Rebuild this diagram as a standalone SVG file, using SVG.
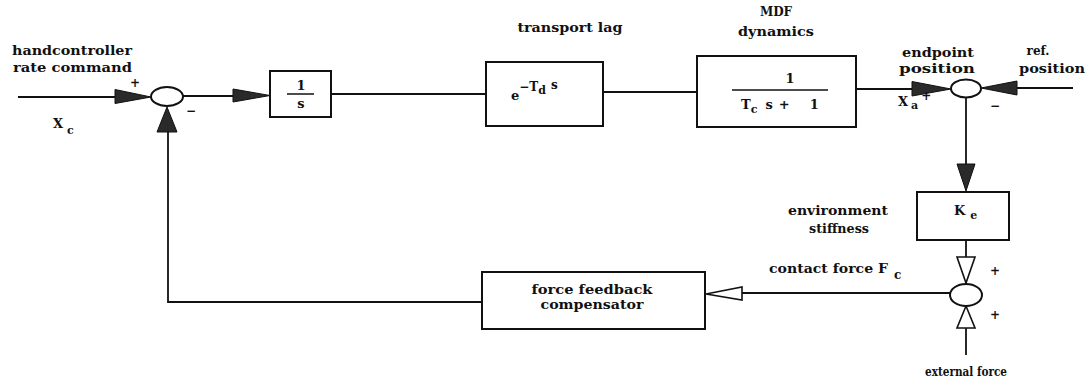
<svg xmlns="http://www.w3.org/2000/svg" width="1091" height="382" viewBox="0 0 1091 382">
<style>
text{font-family:"DejaVu Serif","Liberation Serif",serif;font-weight:bold;fill:#111}
.lbl{font-size:12px}
.mid{text-anchor:middle}
.box{fill:#fff;stroke:#111;stroke-width:2}
.sum{fill:#fff;stroke:#111;stroke-width:2}
.ln{fill:none;stroke:#111;stroke-width:1.8}
.fa{fill:#2a2a2a;stroke:#111;stroke-width:1}
.oa{fill:#fff;stroke:#111;stroke-width:1.6}
.sym{font-size:13px}
.sg{font-size:12px}
</style>
<rect width="1091" height="382" fill="#fff"/>
<g id="connectors">
  <path class="ln" d="M18 97 H115"/>
  <polygon class="fa" points="115,89.5 151,97 115,103.5"/>
  <path class="ln" d="M183 96 H233"/>
  <polygon class="fa" points="233,89 270,95.5 233,102"/>
  <path class="ln" d="M331 94 H486"/>
  <path class="ln" d="M603 92 H697"/>
  <path class="ln" d="M856 89 H912"/>
  <polygon class="fa" points="912,81.5 951,89 912,96"/>
  <path class="ln" d="M1073 88 H1017"/>
  <polygon class="fa" points="1017,81 981,88 1017,95"/>
  <path class="ln" d="M966 97 V164"/>
  <polygon class="fa" points="957,164 975,164 966,191"/>
  <path class="ln" d="M966 240 V257"/>
  <polygon class="oa" points="957,257 975,257 966,283"/>
  <path class="ln" d="M966 355 V328"/>
  <polygon class="oa" points="957,328 975,328 966,306"/>
  <path class="ln" d="M950 293 H742"/>
  <polygon class="oa" points="742,287 742,300 706,294"/>
  <path class="ln" d="M482 302 H168 V132"/>
  <polygon class="fa" points="157,132 177,132 167,107"/>
</g>
<g id="sum1"><ellipse class="sum" cx="167" cy="96.5" rx="16" ry="9.5"/></g>
<g id="integrator">
  <rect class="box" x="270" y="71" width="61" height="46"/>
  <text class="sym mid" x="301" y="90">1</text>
  <line x1="287" y1="94" x2="314" y2="94" stroke="#111" stroke-width="1.5"/>
  <text class="sym mid" x="301" y="108">s</text>
</g>
<g id="transport-lag">
  <rect class="box" x="486" y="62" width="117" height="64"/>
  <text class="sym" x="511" y="100">e<tspan font-size="12" dy="-9">−T</tspan><tspan font-size="11" dy="3">d</tspan><tspan font-size="12" dx="5" dy="-5">s</tspan></text>
</g>
<g id="mdf-dynamics">
  <rect class="box" x="697" y="56" width="159" height="71"/>
  <text class="sym mid" x="790" y="83">1</text>
  <line x1="732" y1="90" x2="828" y2="90" stroke="#111" stroke-width="1.6"/>
  <text class="sym" x="741" y="109">T<tspan font-size="11" dy="4">c</tspan><tspan dx="8" dy="-4">s</tspan><tspan dx="6">+</tspan><tspan dx="20">1</tspan></text>
</g>
<g id="sum2"><ellipse class="sum" cx="966" cy="88.5" rx="15" ry="9"/></g>
<g id="stiffness">
  <rect class="box" x="917" y="192" width="92" height="48"/>
  <text class="sym" x="954" y="215">K<tspan font-size="11" dx="5" dy="4">e</tspan></text>
</g>
<g id="sum3"><ellipse class="sum" cx="966" cy="295" rx="16" ry="11"/></g>
<g id="compensator">
  <rect class="box" x="482" y="272" width="223" height="57"/>
  <text class="lbl mid" x="592" y="294" textLength="121" lengthAdjust="spacingAndGlyphs">force feedback</text>
  <text class="lbl mid" x="592" y="309" textLength="103" lengthAdjust="spacingAndGlyphs">compensator</text>
</g>
<g id="labels">
  <text class="lbl" x="12" y="55" textLength="120" lengthAdjust="spacingAndGlyphs">handcontroller</text>
  <text class="lbl" x="13" y="72" textLength="119" lengthAdjust="spacingAndGlyphs">rate command</text>
  <text class="sg mid" x="135" y="87">+</text>
  <text class="sg mid" x="191" y="115">−</text>
  <text class="sym" x="53" y="128">X<tspan font-size="11" dx="4" dy="6">c</tspan></text>
  <text class="lbl mid" x="570" y="32" textLength="105" lengthAdjust="spacingAndGlyphs">transport lag</text>
  <text class="lbl mid" x="776" y="16">MDF</text>
  <text class="lbl mid" x="776" y="36" textLength="76" lengthAdjust="spacingAndGlyphs">dynamics</text>
  <text class="lbl mid" x="938" y="57" textLength="72" lengthAdjust="spacingAndGlyphs">endpoint</text>
  <text class="lbl mid" x="937" y="73" textLength="76" lengthAdjust="spacingAndGlyphs">position</text>
  <text class="lbl mid" x="1038" y="55">ref.</text>
  <text class="lbl mid" x="1052" y="73" textLength="66" lengthAdjust="spacingAndGlyphs">position</text>
  <text class="sym" x="898" y="106">X<tspan font-size="11" dx="3" dy="3">a</tspan><tspan font-size="12" dx="3" dy="-9">+</tspan></text>
  <text class="sg mid" x="995" y="110">−</text>
  <text class="lbl mid" x="838" y="215" textLength="100" lengthAdjust="spacingAndGlyphs">environment</text>
  <text class="lbl mid" x="839" y="233" textLength="60" lengthAdjust="spacingAndGlyphs">stiffness</text>
  <text class="lbl" x="769" y="273" textLength="119" lengthAdjust="spacingAndGlyphs">contact force F</text>
  <text class="lbl" x="894" y="279" font-size="11">c</text>
  <text class="sg mid" x="995" y="275">+</text>
  <text class="sg mid" x="995" y="319">+</text>
  <text class="lbl mid" x="966" y="376" font-size="11" textLength="82" lengthAdjust="spacingAndGlyphs">external force</text>
</g>
</svg>
